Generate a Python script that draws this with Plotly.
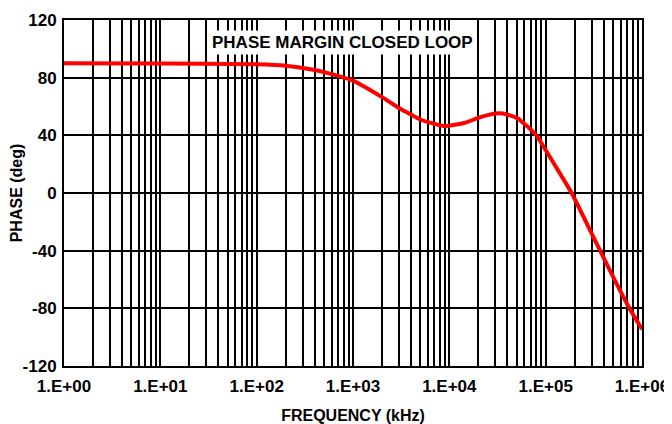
import plotly.graph_objects as go

# Data
freq_khz = [1, 10, 100, 200, 400, 600, 1000, 2000, 3000, 4000, 5000, 7000, 9000,
            14500, 20000, 30000, 36000, 50000, 60000, 80000, 100000, 135000,
            186000, 300000, 500000, 741000, 1000000]
phase_deg = [90, 89.9, 89.3, 88.3, 85.3, 82.5, 77.9, 66.5, 59.0, 54.4, 51.0, 48.0, 46.4,
             48.7, 52.1, 55.1, 55.1, 52.1, 48.0, 40, 29.8, 15.5,
             0, -28, -58, -80, -94.5]

decade_labels = ["1.E+00", "1.E+01", "1.E+02", "1.E+03", "1.E+04", "1.E+05", "1.E+06"]
y_ticks = [-120, -80, -40, 0, 40, 80, 120]
y_tick_labels = ["-120", "-80", "-40", "0", "40", "80", "120"]

# grid positions on log axis (1..9 per decade)
tickvals = []
ticktext = []
for d in range(6):
    for m in range(1, 10):
        tickvals.append(m * 10 ** d)
        ticktext.append(decade_labels[d] if m == 1 else "")
tickvals.append(10 ** 6)
ticktext.append(decade_labels[6])

fig = go.Figure()
fig.add_trace(go.Scatter(
    x=freq_khz, y=phase_deg, mode="lines",
    line=dict(color="#ff0000", width=4, shape="spline", smoothing=0.6),
    showlegend=False, hoverinfo="skip",
))

font_family = "Liberation Sans, Arial, sans-serif"

# page body adds an 8px offset; figure is sized to fill the remaining window
fig.update_layout(
    width=664, height=416,
    margin=dict(l=56, r=30, t=12, b=58),
    paper_bgcolor="white", plot_bgcolor="white",
    font=dict(family=font_family, color="black"),
    xaxis=dict(
        type="log", range=[0, 6], automargin=False,
        tickmode="array", tickvals=tickvals, ticktext=ticktext,
        showgrid=True, gridcolor="black", gridwidth=2,
        showline=True, linecolor="black", linewidth=2, mirror=True,
        ticks="", ticklabelstandoff=4,
        tickfont=dict(size=17, family=font_family, weight="bold"),
        title=dict(text="<b>FREQUENCY (kHz)</b>", font=dict(size=16), standoff=14),
        zeroline=False,
    ),
    yaxis=dict(
        range=[-120, 120], automargin=False,
        tickmode="array", tickvals=y_ticks, ticktext=y_tick_labels,
        showgrid=True, gridcolor="black", gridwidth=2,
        showline=True, linecolor="black", linewidth=2, mirror=True,
        ticks="", ticklabelstandoff=2,
        tickfont=dict(size=17, family=font_family, weight="bold"),
        title=dict(text="<b>PHASE (deg)</b>", font=dict(size=16), standoff=0),
        zeroline=False,
    ),
    annotations=[dict(
        text="<b>PHASE MARGIN CLOSED LOOP</b>",
        xref="paper", yref="paper", x=0.481, y=0.936,
        xanchor="center", yanchor="middle", showarrow=False,
        font=dict(size=17, family=font_family, color="black"),
        bgcolor="white", borderpad=2,
    )],
)

fig.write_html("out.html")
